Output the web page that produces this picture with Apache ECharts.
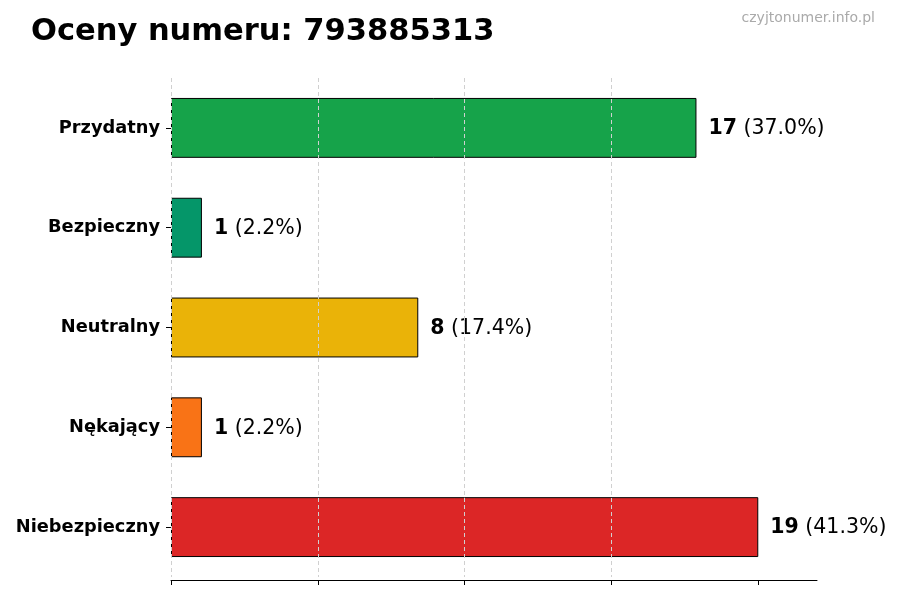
<!DOCTYPE html>
<html>
<head>
<meta charset="UTF-8">
<title>Oceny numeru</title>
<script src="https://cdn.jsdelivr.net/npm/echarts@6/dist/echarts.min.js"></script>
<style>
html,body{margin:0;padding:0;background:#fff;}
</style>
</head>
<body>
<div id="box" style="width:900px;height:600px;"></div>
<script>
// dane z wykresu
var categories = ['Przydatny', 'Bezpieczny', 'Neutralny', 'Nękający', 'Niebezpieczny'];
var counts = [17, 1, 8, 1, 19];
var colors = ['#16a34a', '#059669', '#eab308', '#f97316', '#dc2626'];
var xTicks = [0, 4.75, 9.5, 14.25, 19];
var xMax = 20.9;

var total = counts.reduce(function (a, b) { return a + b; }, 0);
var font = 'DejaVu Sans';

var mychart = echarts.init(document.getElementById('box'));

var option = {
  backgroundColor: '#fff',
  animation: false,
  title: [{
    text: 'Oceny numeru: 793885313',
    left: 26, top: 12,
    textStyle: { fontFamily: font, fontSize: 30.5, fontWeight: 'bold', color: '#000' }
  }, {
    text: 'czyjtonumer.info.pl',
    right: 20, top: 6,
    textStyle: { fontFamily: font, fontSize: 14, fontWeight: 'normal', color: '#aaaaaa' }
  }],
  grid: { left: 171, right: 83, top: 78, bottom: 23 },
  xAxis: {
    type: 'value',
    min: 0, max: xMax,
    z: 3,
    offset: 3,
    axisLine: { show: true, lineStyle: { color: '#000', width: 1 } },
    axisTick: { show: true, length: 5, customValues: xTicks, lineStyle: { color: '#000' } },
    axisLabel: { show: false },
    splitLine: { show: true, showMaxLine: false, lineStyle: { color: '#d0d0d0', type: [4, 3], width: 1 } }
  },
  yAxis: {
    type: 'category',
    inverse: true,
    data: categories,
    axisLine: { show: false },
    axisTick: { show: true, alignWithLabel: true, length: 5, lineStyle: { color: '#000' } },
    axisLabel: { fontFamily: font, fontSize: 17.8, fontWeight: 'bold', color: '#000', margin: 11 }
  },
  series: [{
    type: 'bar',
    barWidth: '60%',
    data: counts.map(function (v, i) {
      return { value: v, itemStyle: { color: colors[i] } };
    }),
    itemStyle: { borderColor: '#000', borderWidth: 1 },
    label: {
      show: true,
      position: 'right',
      distance: 12,
      offset: [0, 1],
      formatter: function (p) {
        return '{b|' + p.value + '}{n| (' + (p.value / total * 100).toFixed(1) + '%)}';
      },
      rich: {
        b: { fontFamily: font, fontSize: 20.5, fontWeight: 'bold', color: '#000' },
        n: { fontFamily: font, fontSize: 20.5, color: '#000' }
      }
    }
  }]
};

mychart.setOption(option);
</script>
</body>
</html>
